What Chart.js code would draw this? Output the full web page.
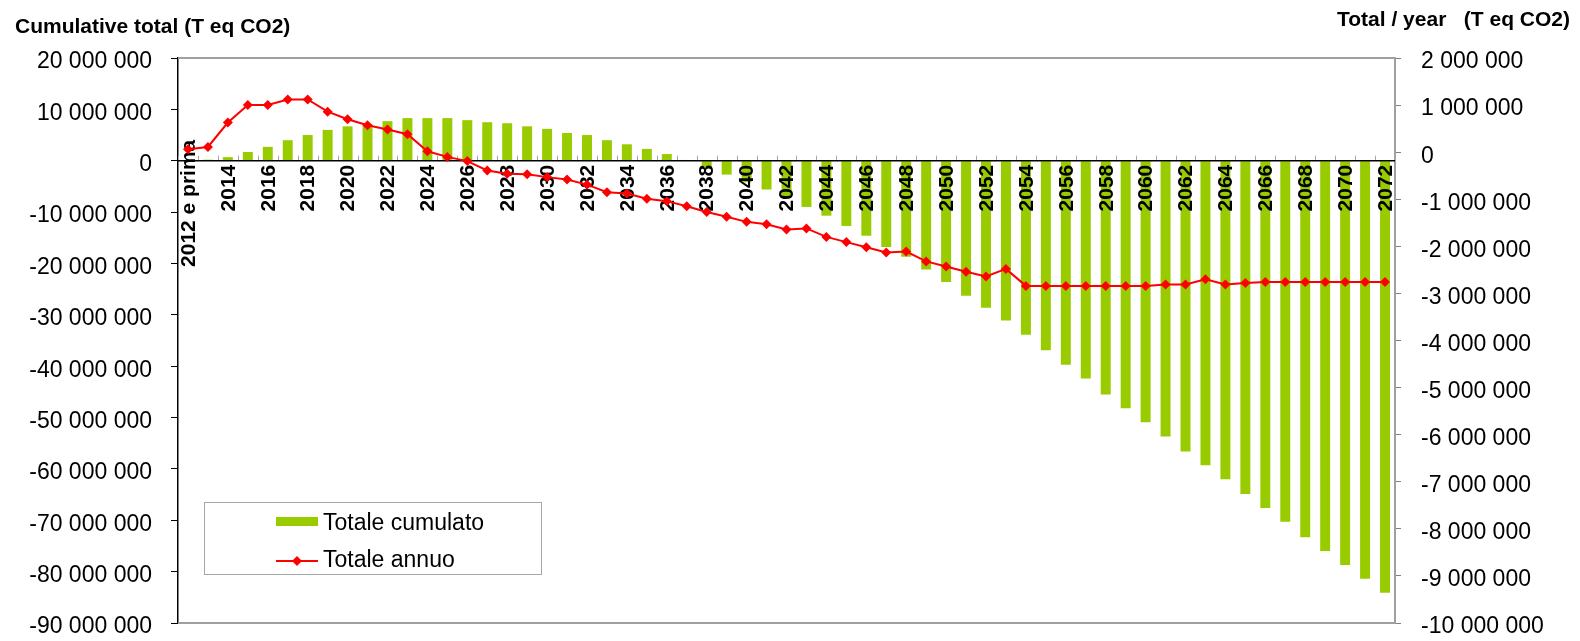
<!DOCTYPE html>
<html>
<head>
<meta charset="utf-8">
<script src="https://cdn.jsdelivr.net/npm/chart.js@4.4.1/dist/chart.umd.min.js"></script>
<style>
    html, body { margin: 0; padding: 0; background: #fff; }
    #wrap { position: relative; width: 1580px; height: 641px; }
</style>
</head>
<body>
<div id="wrap"><canvas id="chartCO2"></canvas></div>
<script>
// Categorie (anni)
const anni = [
    "2012 e prima", "2013", "2014", "2015", "2016", "2017", "2018", "2019", "2020", "2021",
    "2022", "2023", "2024", "2025", "2026", "2027", "2028", "2029", "2030", "2031",
    "2032", "2033", "2034", "2035", "2036", "2037", "2038", "2039", "2040", "2041",
    "2042", "2043", "2044", "2045", "2046", "2047", "2048", "2049", "2050", "2051",
    "2052", "2053", "2054", "2055", "2056", "2057", "2058", "2059", "2060", "2061",
    "2062", "2063", "2064", "2065", "2066", "2067", "2068", "2069", "2070", "2071",
    "2072",
];

// Totale cumulato (T eq CO2) - asse sinistro
const totaleCumulato = [
    50000, 200000, 700000, 1700000, 2700000, 4000000, 5000000, 6000000, 6700000, 7100000,
    7700000, 8300000, 8300000, 8300000, 7900000, 7500000, 7300000, 6700000, 6200000, 5400000,
    5000000, 4000000, 3200000, 2300000, 1300000, 150000, -1200000, -2700000, -4200000, -5600000,
    -7100000, -9000000, -10700000, -12700000, -14600000, -16800000, -18700000, -21200000, -23600000, -26300000,
    -28600000, -31100000, -33900000, -36900000, -39700000, -42400000, -45500000, -48200000, -50900000, -53700000,
    -56600000, -59300000, -62000000, -64900000, -67600000, -70300000, -73300000, -76000000, -78700000, -81400000,
    -84100000,
];

// Totale annuo (T eq CO2) - asse destro
const totaleAnnuo = [
    60000, 110000, 630000, 1000000, 1000000, 1120000, 1120000, 860000, 700000, 570000,
    480000, 380000, 20000, -100000, -190000, -390000, -460000, -470000, -530000, -580000,
    -690000, -850000, -880000, -990000, -1040000, -1150000, -1270000, -1370000, -1480000, -1530000,
    -1640000, -1620000, -1800000, -1910000, -2020000, -2130000, -2110000, -2320000, -2430000, -2540000,
    -2640000, -2480000, -2840000, -2840000, -2840000, -2840000, -2840000, -2840000, -2840000, -2810000,
    -2810000, -2700000, -2810000, -2780000, -2760000, -2760000, -2760000, -2760000, -2760000, -2760000,
    -2760000,
];

// Tick degli assi
const tickSinistra = [20000000, 10000000, 0, -10000000, -20000000, -30000000, -40000000, -50000000, -60000000, -70000000, -80000000, -90000000];
const tickDestra = [2000000, 1000000, 0, -1000000, -2000000, -3000000, -4000000, -5000000, -6000000, -7000000, -8000000, -9000000, -10000000];

const FONT = "'Liberation Sans', Arial, sans-serif";

function formatNumero(v) {
    const s = Math.abs(v).toString().replace(/\B(?=(\d{3})+(?!\d))/g, " ");
    return (v < 0 ? "-" : "") + s;
}

// Decorazioni stile Excel: linea dello zero, etichette anni, bordi, titoli, legenda
const decorPlugin = {
    id: "decor",
    beforeDatasetsDraw(chart) {
        const { ctx, scales } = chart;
        const x = scales.x;
        const y0 = scales.y.getPixelForValue(0);
        const step = x.getPixelForValue(1) - x.getPixelForValue(0);
        ctx.save();
        ctx.strokeStyle = "#a6a6a6";
        ctx.lineWidth = 1;
        for (let i = 0; i <= anni.length; i++) {
            const px = Math.round(x.getPixelForValue(0) - step / 2 + i * step) + 0.5;
            ctx.beginPath();
            ctx.moveTo(px, y0 - 5);
            ctx.lineTo(px, y0);
            ctx.stroke();
        }
        ctx.restore();
    },
    beforeDatasetDraw(chart, args) {
        if (args.index !== 0) return;
        const { ctx, chartArea: a, scales } = chart;
        const x = scales.x;
        const y0 = scales.y.getPixelForValue(0);
        ctx.save();
        // linea dello zero
        ctx.strokeStyle = "#000";
        ctx.lineWidth = 1.5;
        ctx.beginPath();
        ctx.moveTo(a.left, y0);
        ctx.lineTo(a.right, y0);
        ctx.stroke();
        // etichette anni (una ogni due)
        ctx.fillStyle = "#000";
        ctx.font = "bold 21px " + FONT;
        ctx.textAlign = "right";
        ctx.textBaseline = "middle";
        for (let i = 0; i < anni.length; i += 2) {
            // la prima etichetta, più lunga, sale sopra la linea dello zero
            const dy = i === 0 ? -21 : 4;
            ctx.save();
            ctx.translate(x.getPixelForValue(i) + 1, y0 + dy);
            ctx.rotate(-Math.PI / 2);
            ctx.fillText(anni[i], 0, 0);
            ctx.restore();
        }
        ctx.restore();
    },
    afterDraw(chart) {
        const { ctx, chartArea: a } = chart;
        ctx.save();
        // bordi superiore e inferiore
        ctx.strokeStyle = "#a0a0a0";
        ctx.lineWidth = 2;
        ctx.beginPath();
        ctx.moveTo(a.left, a.top);
        ctx.lineTo(a.right, a.top);
        ctx.moveTo(a.left, a.bottom);
        ctx.lineTo(a.right, a.bottom);
        ctx.stroke();

        // titoli degli assi
        ctx.fillStyle = "#000";
        ctx.font = "bold 21px " + FONT;
        ctx.textBaseline = "middle";
        ctx.textAlign = "left";
        ctx.fillText("Cumulative total (T eq CO2)", 15, 27);
        ctx.textAlign = "right";
        ctx.fillText("Total / year   (T eq CO2)", 1570, 20);

        // legenda
        ctx.strokeStyle = "#a6a6a6";
        ctx.lineWidth = 1;
        ctx.strokeRect(204.5, 502.5, 337, 72);
        ctx.fillStyle = "#99cc00";
        ctx.fillRect(276, 517, 42, 9);
        ctx.strokeStyle = "#ff0000";
        ctx.lineWidth = 2;
        ctx.beginPath();
        ctx.moveTo(276, 561);
        ctx.lineTo(318, 561);
        ctx.stroke();
        ctx.fillStyle = "#ff0000";
        ctx.beginPath();
        ctx.moveTo(297, 556);
        ctx.lineTo(302, 561);
        ctx.lineTo(297, 566);
        ctx.lineTo(292, 561);
        ctx.closePath();
        ctx.fill();
        ctx.fillStyle = "#000";
        ctx.font = "23px " + FONT;
        ctx.textAlign = "left";
        ctx.fillText("Totale cumulato", 323, 524);
        ctx.fillText("Totale annuo", 323, 561);
        ctx.restore();
    },
};

document.addEventListener("DOMContentLoaded", function () {
    const ctx = document.getElementById("chartCO2").getContext("2d");
    new Chart(ctx, {
        type: "bar",
        data: {
            labels: anni,
            datasets: [
                {
                    type: "line",
                    label: "Totale annuo",
                    data: totaleAnnuo,
                    yAxisID: "y2",
                    borderColor: "#ff0000",
                    backgroundColor: "#ff0000",
                    borderWidth: 2,
                    pointStyle: "rectRot",
                    pointRadius: 5,
                    pointHoverRadius: 5,
                    pointBorderWidth: 0,
                    tension: 0,
                    order: 0,
                },
                {
                    type: "bar",
                    label: "Totale cumulato",
                    data: totaleCumulato,
                    yAxisID: "y",
                    backgroundColor: "#99cc00",
                    barPercentage: 0.5,
                    categoryPercentage: 1,
                    order: 1,
                },
            ],
        },
        options: {
            responsive: true,
            maintainAspectRatio: false,
            animation: false,
            layout: { padding: { top: 58, bottom: 18, left: 0, right: 0 } },
            plugins: {
                legend: { display: false },
                tooltip: { enabled: false },
            },
            scales: {
                x: { display: false, offset: true },
                y: {
                    position: "left",
                    min: -90000000,
                    max: 20000000,
                    afterBuildTicks: (s) => { s.ticks = tickSinistra.map((v) => ({ value: v })); },
                    afterFit: (s) => { s.width = 178; s.paddingTop = 0; s.paddingBottom = 0; },
                    border: { color: "#000", width: 1.5 },
                    grid: { drawOnChartArea: false, tickColor: "#000", tickLength: 7 },
                    ticks: {
                        color: "#000",
                        font: { family: FONT, size: 23 },
                        padding: 19,
                        labelOffset: 4,
                        callback: (v) => formatNumero(v),
                    },
                },
                y2: {
                    position: "right",
                    min: -10000000,
                    max: 2000000,
                    afterBuildTicks: (s) => { s.ticks = tickDestra.map((v) => ({ value: v })); },
                    afterFit: (s) => { s.width = 185; s.paddingTop = 0; s.paddingBottom = 0; },
                    border: { color: "#a0a0a0", width: 2 },
                    grid: { drawOnChartArea: false, tickColor: "#808080", tickLength: 6 },
                    ticks: {
                        color: "#000",
                        font: { family: FONT, size: 23 },
                        padding: 20,
                        labelOffset: 4,
                        callback: (v) => formatNumero(v),
                    },
                },
            },
        },
        plugins: [decorPlugin],
    });
});
</script>
</body>
</html>
